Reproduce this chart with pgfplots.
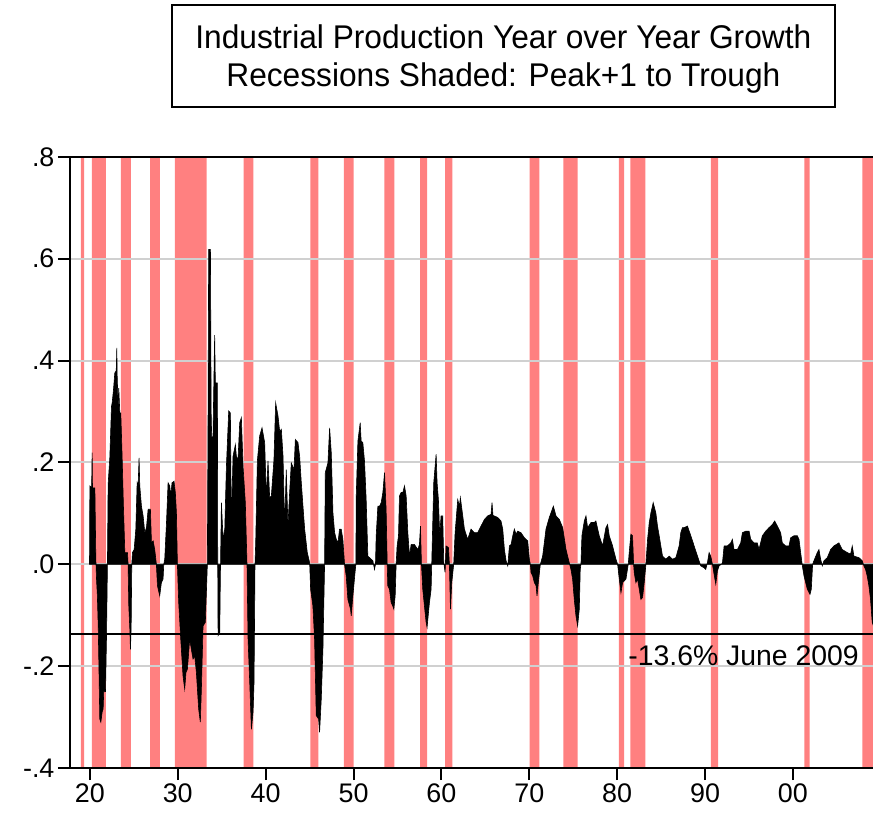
\documentclass[border=0pt]{standalone}
\usepackage{pgfplots}
\pgfplotsset{compat=1.18}
\usepackage{fontspec}
\setmainfont{Liberation Sans}
\newfontfamily\titlefont[FakeStretch=0.965]{Liberation Sans}
\definecolor{rec}{RGB}{255,128,128}
\definecolor{gridc}{RGB}{208,208,208}
\begin{document}
\begin{tikzpicture}
\begin{axis}[
  at={(0,0)}, anchor=south west,
  scale only axis, width=804bp, height=612bp,
  xmin=1917.73, xmax=2009.1, ymin=-0.4, ymax=0.8,
  axis x line*=bottom, axis y line*=left,
  axis line style={line width=2.2bp},
  xtick={1920,1930,1940,1950,1960,1970,1980,1990,2000},
  xticklabels={20,30,40,50,60,70,80,90,00},
  ytick={-0.4,-0.2,0,0.2,0.4,0.6,0.8},
  yticklabels={-.4,-.2,.0,.2,.4,.6,.8},
  tick align=outside, major tick length=12bp,
  tick style={line width=2bp, black},
  ticklabel style={font=\fontsize{27}{30}\selectfont},
  ymajorgrids, major grid style={gridc, line width=2bp},
  set layers,
]
% recessions
\addplot[fill=rec, draw=none, on layer=axis background] coordinates {(1918.98,-0.4)(1918.98,0.8)(1919.36,0.8)(1919.36,-0.4)(1918.98,-0.4)};
\addplot[fill=rec, draw=none, on layer=axis background] coordinates {(1920.23,-0.4)(1920.23,0.8)(1921.82,0.8)(1921.82,-0.4)(1920.23,-0.4)};
\addplot[fill=rec, draw=none, on layer=axis background] coordinates {(1923.53,-0.4)(1923.53,0.8)(1924.66,0.8)(1924.66,-0.4)(1923.53,-0.4)};
\addplot[fill=rec, draw=none, on layer=axis background] coordinates {(1926.86,-0.4)(1926.86,0.8)(1927.96,0.8)(1927.96,-0.4)(1926.86,-0.4)};
\addplot[fill=rec, draw=none, on layer=axis background] coordinates {(1929.66,-0.4)(1929.66,0.8)(1933.30,0.8)(1933.30,-0.4)(1929.66,-0.4)};
\addplot[fill=rec, draw=none, on layer=axis background] coordinates {(1937.50,-0.4)(1937.50,0.8)(1938.60,0.8)(1938.60,-0.4)(1937.50,-0.4)};
\addplot[fill=rec, draw=none, on layer=axis background] coordinates {(1945.10,-0.4)(1945.10,0.8)(1946.00,0.8)(1946.00,-0.4)(1945.10,-0.4)};
\addplot[fill=rec, draw=none, on layer=axis background] coordinates {(1948.90,-0.4)(1948.90,0.8)(1950.00,0.8)(1950.00,-0.4)(1948.90,-0.4)};
\addplot[fill=rec, draw=none, on layer=axis background] coordinates {(1953.50,-0.4)(1953.50,0.8)(1954.66,0.8)(1954.66,-0.4)(1953.50,-0.4)};
\addplot[fill=rec, draw=none, on layer=axis background] coordinates {(1957.58,-0.4)(1957.58,0.8)(1958.37,0.8)(1958.37,-0.4)(1957.58,-0.4)};
\addplot[fill=rec, draw=none, on layer=axis background] coordinates {(1960.42,-0.4)(1960.42,0.8)(1961.25,0.8)(1961.25,-0.4)(1960.42,-0.4)};
\addplot[fill=rec, draw=none, on layer=axis background] coordinates {(1970.04,-0.4)(1970.04,0.8)(1971.14,0.8)(1971.14,-0.4)(1970.04,-0.4)};
\addplot[fill=rec, draw=none, on layer=axis background] coordinates {(1973.87,-0.4)(1973.87,0.8)(1975.50,0.8)(1975.50,-0.4)(1973.87,-0.4)};
\addplot[fill=rec, draw=none, on layer=axis background] coordinates {(1980.20,-0.4)(1980.20,0.8)(1980.80,0.8)(1980.80,-0.4)(1980.20,-0.4)};
\addplot[fill=rec, draw=none, on layer=axis background] coordinates {(1981.50,-0.4)(1981.50,0.8)(1983.20,0.8)(1983.20,-0.4)(1981.50,-0.4)};
\addplot[fill=rec, draw=none, on layer=axis background] coordinates {(1990.65,-0.4)(1990.65,0.8)(1991.48,0.8)(1991.48,-0.4)(1990.65,-0.4)};
\addplot[fill=rec, draw=none, on layer=axis background] coordinates {(2001.30,-0.4)(2001.30,0.8)(2001.90,0.8)(2001.90,-0.4)(2001.30,-0.4)};
\addplot[fill=rec, draw=none, on layer=axis background] coordinates {(2007.90,-0.4)(2007.90,0.8)(2009.10,0.8)(2009.10,-0.4)(2007.90,-0.4)};
% growth series
\addplot[fill=black, draw=black, line width=0.6bp] coordinates {
(1919.96,0) (1920.00,0.154) (1920.20,0.15) (1920.26,0.219) (1920.30,0.15) (1920.57,0.150) (1920.68,0.010)
(1920.76,-0.03) (1920.85,-0.06) (1920.95,-0.12) (1921.05,-0.22) (1921.13,-0.304) (1921.25,-0.31) (1921.4,-0.29)
(1921.51,-0.284) (1921.58,-0.25) (1921.78,-0.25) (1921.89,-0.147) (1922.0,0) (1922.08,0.157) (1922.27,0.21)
(1922.35,0.25) (1922.46,0.31) (1922.54,0.317) (1922.69,0.343) (1922.84,0.376) (1923.0,0.38) (1923.07,0.425)
(1923.1,0.376) (1923.22,0.304) (1923.29,0.346) (1923.41,0.297) (1923.52,0.297) (1923.67,0.212) (1923.82,0.114)
(1923.98,0.023) (1924.28,0.023) (1924.35,0) (1924.43,-0.082) (1924.54,-0.124) (1924.62,-0.167) (1924.7,-0.121)
(1924.77,0) (1924.85,0.023) (1925.04,0.029) (1925.23,0.069) (1925.38,0.16) (1925.49,0.154) (1925.6,0.209)
(1925.68,0.154) (1925.87,0.114) (1926.06,0.095) (1926.25,0.062) (1926.44,0.072) (1926.63,0.108) (1926.89,0.108)
(1927.01,0.042) (1927.2,0.046) (1927.38,0.029) (1927.57,0) (1927.69,-0.042) (1927.95,-0.062) (1928.14,-0.036)
(1928.33,-0.029) (1928.41,0) (1928.52,0.01) (1928.71,0.078) (1928.9,0.16) (1929.09,0.154) (1929.2,0.134)
(1929.35,0.16) (1929.58,0.163) (1929.73,0.14) (1929.85,0.101) (1929.96,0) (1930.11,-0.075) (1930.34,-0.147)
(1930.6,-0.219) (1930.79,-0.245) (1930.94,-0.212) (1931.1,-0.206) (1931.36,-0.147) (1931.55,-0.167) (1931.74,-0.186)
(1931.93,-0.18) (1932.12,-0.212) (1932.38,-0.284) (1932.57,-0.31) (1932.69,-0.245) (1932.88,-0.121) (1933.14,-0.114)
(1933.37,0) (1933.45,0.3) (1933.52,0.618) (1933.72,0.618) (1933.8,0.3) (1933.86,0.25) (1934.01,0.25)
(1934.15,0.4) (1934.2,0.45) (1934.28,0.356) (1934.51,0.356) (1934.55,0) (1934.59,-0.14) (1934.78,-0.134)
(1934.85,-0.023) (1934.97,0.121) (1935.16,0.049) (1935.35,0.069) (1935.54,0.193) (1935.8,0.301) (1935.99,0.297)
(1936.1,0.075) (1936.29,0.212) (1936.56,0.235) (1936.67,0.212) (1936.86,0.206) (1937.05,0.278) (1937.24,0.288)
(1937.43,0.193) (1937.69,0.121) (1937.88,0) (1938.0,-0.147) (1938.19,-0.232) (1938.38,-0.324) (1938.57,-0.29)
(1938.68,-0.232) (1938.79,0) (1938.87,0.042) (1939.06,0.203) (1939.32,0.252) (1939.59,0.268) (1939.89,0.239)
(1940.08,0.131) (1940.27,0.203) (1940.46,0.131) (1940.65,0.134) (1940.95,0.206) (1941.14,0.317) (1941.41,0.291)
(1941.6,0.261) (1941.79,0.265) (1941.98,0.212) (1942.16,0.075) (1942.35,0.186) (1942.54,0.075) (1942.73,0.141)
(1942.92,0.199) (1943.23,0.186) (1943.38,0.245) (1943.68,0.239) (1943.87,0.212) (1944.06,0.16) (1944.25,0.114)
(1944.44,0.069) (1944.74,0.023) (1945.01,0.003) (1945.12,-0.049) (1945.38,-0.082) (1945.57,-0.147) (1945.76,-0.297)
(1946.03,-0.304) (1946.14,-0.33) (1946.33,-0.265) (1946.52,-0.167) (1946.71,0) (1946.79,0.18) (1947.09,0.199)
(1947.28,0.268) (1947.47,0.219) (1947.66,0.101) (1947.85,0.062) (1948.04,0.049) (1948.23,0.042) (1948.41,0.069)
(1948.6,0.069) (1948.79,0.049) (1948.98,0) (1949.17,-0.023) (1949.36,-0.069) (1949.66,-0.088) (1949.74,-0.101)
(1949.93,-0.062) (1950.19,-0.013) (1950.27,0) (1950.31,0.134) (1950.5,0.242) (1950.76,0.278) (1950.87,0.242)
(1951.06,0.239) (1951.25,0.203) (1951.44,0.127) (1951.63,0.016) (1951.82,0.013) (1952.01,0.01) (1952.2,0.007)
(1952.39,-0.01) (1952.5,0) (1952.58,0.056) (1952.77,0.114) (1952.96,0.114) (1953.15,0.121) (1953.34,0.141)
(1953.53,0.18) (1953.71,0.108) (1953.83,0.003) (1953.9,-0.042) (1954.09,-0.049) (1954.28,-0.075) (1954.47,-0.082)
(1954.59,-0.088) (1954.74,-0.062) (1954.85,0) (1954.96,0.036) (1955.12,0.056) (1955.23,0.134) (1955.42,0.141)
(1955.61,0.141) (1955.8,0.154) (1955.99,0.134) (1956.18,0.062) (1956.37,0.016) (1956.56,0.039) (1956.93,0.039)
(1957.31,0.029) (1957.5,0.039) (1957.62,0.075) (1957.73,0) (1957.88,-0.049) (1958.07,-0.082) (1958.26,-0.114)
(1958.37,-0.124) (1958.64,-0.075) (1958.83,-0.049) (1958.9,0) (1958.98,0.056) (1959.13,0.16) (1959.4,0.216)
(1959.51,0.16) (1959.66,0.127) (1959.81,0.056) (1959.96,0.095) (1960.15,0.095) (1960.27,0.003) (1960.42,-0.016)
(1960.53,0.036) (1960.8,0.033) (1960.91,0) (1961.03,-0.088) (1961.18,-0.036) (1961.4,0) (1961.56,0.062)
(1961.86,0.127) (1962.05,0.114) (1962.16,0.131) (1962.43,0.095) (1962.62,0.069) (1962.99,0.049) (1963.37,0.069)
(1963.75,0.062) (1964.13,0.062) (1964.51,0.075) (1964.89,0.088) (1965.27,0.095) (1965.65,0.098) (1965.76,0.121)
(1965.87,0.096) (1966.4,0.092) (1966.78,0.085) (1966.98,0.069) (1967.17,0.029) (1967.36,0.007) (1967.55,-0.003)
(1967.74,0.036) (1967.93,0.039) (1968.12,0.056) (1968.3,0.069) (1968.49,0.059) (1968.68,0.065) (1969.06,0.062)
(1969.44,0.052) (1969.82,0.046) (1970.01,0.01) (1970.12,0) (1970.2,-0.016) (1970.39,-0.023) (1970.58,-0.036)
(1970.77,-0.042) (1970.88,-0.062) (1971.07,-0.029) (1971.26,0) (1971.52,0.016) (1971.71,0.042) (1971.9,0.069)
(1972.28,0.092) (1972.74,0.114) (1973.04,0.095) (1973.42,0.088) (1973.8,0.072) (1974.18,0.029) (1974.55,0.003)
(1974.74,-0.01) (1974.93,-0.029) (1975.12,-0.069) (1975.31,-0.101) (1975.5,-0.121) (1975.69,-0.088) (1975.8,-0.01)
(1975.88,0) (1975.99,0.056) (1976.26,0.085) (1976.45,0.095) (1976.64,0.072) (1977.02,0.082) (1977.4,0.082)
(1977.58,0.085) (1977.96,0.056) (1978.34,0.036) (1978.72,0.072) (1978.91,0.078) (1979.1,0.056) (1979.48,0.036)
(1979.86,0.01) (1980.05,0) (1980.24,-0.029) (1980.43,-0.056) (1980.62,-0.036) (1981.0,-0.029) (1981.26,0)
(1981.37,0.023) (1981.56,0.059) (1981.75,0.056) (1981.87,0) (1981.94,-0.016) (1982.13,-0.036) (1982.32,-0.029)
(1982.51,-0.049) (1982.7,-0.069) (1982.89,-0.065) (1983.08,-0.036) (1983.27,0) (1983.46,0.049) (1983.65,0.082)
(1983.84,0.101) (1984.1,0.121) (1984.4,0.101) (1984.59,0.075) (1984.78,0.056) (1985.16,0.016) (1985.54,0.01)
(1985.92,0.016) (1986.3,0.01) (1986.68,0.013) (1987.05,0.036) (1987.24,0.062) (1987.43,0.072) (1987.62,0.072)
(1988.0,0.075) (1988.38,0.056) (1988.76,0.036) (1989.14,0.016) (1989.51,-0.003) (1989.89,-0.007) (1990.08,-0.01)
(1990.27,0.003) (1990.46,0.023) (1990.65,0.016) (1990.84,0) (1991.03,-0.02) (1991.22,-0.039) (1991.41,-0.013)
(1991.6,-0.003) (1991.86,0) (1991.98,0.003) (1992.17,0.036) (1992.54,0.036) (1992.92,0.042) (1993.11,0.049)
(1993.3,0.029) (1993.68,0.029) (1994.06,0.042) (1994.25,0.062) (1994.63,0.065) (1995.01,0.065) (1995.2,0.049)
(1995.57,0.042) (1995.95,0.042) (1996.14,0.029) (1996.52,0.056) (1996.9,0.065) (1997.28,0.072) (1997.66,0.078)
(1997.92,0.085) (1998.23,0.075) (1998.6,0.062) (1998.79,0.042) (1999.17,0.036) (1999.55,0.036) (1999.74,0.052)
(2000.12,0.056) (2000.5,0.056) (2000.69,0.049) (2000.88,0.023) (2001.07,-0.003) (2001.26,-0.023) (2001.45,-0.036)
(2001.64,-0.049) (2001.94,-0.059) (2002.09,-0.049) (2002.24,0) (2002.39,0.007) (2002.77,0.023) (2002.96,0.029)
(2003.15,0.01) (2003.34,-0.003) (2003.53,0.007) (2003.91,0.013) (2004.29,0.029) (2004.66,0.036) (2005.23,0.042)
(2005.61,0.029) (2006.18,0.023) (2006.56,0.02) (2006.75,0.036) (2006.94,0.016) (2007.51,0.013) (2007.89,0.007)
(2008.07,-0.003) (2008.26,-0.01) (2008.45,-0.023) (2008.64,-0.042) (2008.83,-0.069) (2009.02,-0.114) (2009.1,-0.118)
} \closedcycle;
% June 2009 reference line
\addplot[black, line width=2bp] coordinates {(1917.73,-0.136) (2009.1,-0.136)};
\node[anchor=base east, font=\fontsize{28.5}{32}\selectfont, inner sep=0pt] at (axis cs:2007.5,-0.199) {-13.6\% June 2009};
\end{axis}
\draw[line width=2.2bp] (current axis.north west) -- (current axis.north east);
\node[draw, line width=1.8bp, minimum width=664bp, minimum height=102bp, align=center,
      font=\titlefont\fontsize{33}{38}\selectfont, inner sep=0pt]
      at (434bp,713bp) {\raisebox{0pt}[\height][\depth]{}\\[-38pt]\strut};
\node[align=center, font=\titlefont\fontsize{33}{38}\selectfont, inner sep=0pt]
      at (434bp,710bp) {Industrial Production Year over Year Growth\\Recessions Shaded: Peak+1 to Trough};
\path (-70bp,-48bp) (804bp,769bp);
\end{tikzpicture}
\end{document}
